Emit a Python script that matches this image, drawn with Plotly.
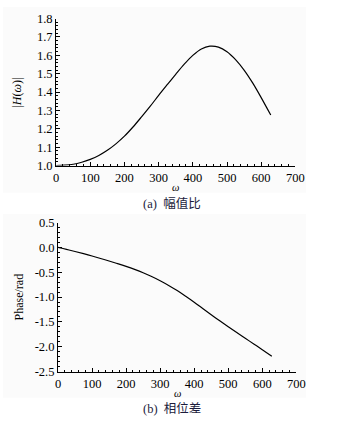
import plotly.graph_objects as go

# ---- data ----
omega_a = [0, 25, 50, 75, 100, 125, 150, 175, 200, 225, 250, 275, 300, 325, 350,
           375, 400, 425, 450, 475, 500, 525, 550, 575, 600, 628]
mag_ratio = [1.000, 1.002, 1.007, 1.018, 1.034, 1.055, 1.083, 1.118, 1.160, 1.210,
             1.265, 1.322, 1.382, 1.440, 1.497, 1.552, 1.600, 1.635, 1.650, 1.645,
             1.620, 1.577, 1.520, 1.450, 1.370, 1.275]

omega_b = [0, 25, 50, 75, 100, 125, 150, 175, 200, 225, 250, 275, 300, 325, 350,
           375, 400, 425, 450, 475, 500, 525, 550, 575, 600, 628]
phase = [0.000, -0.040, -0.082, -0.126, -0.173, -0.222, -0.273, -0.326, -0.382,
         -0.443, -0.510, -0.585, -0.670, -0.765, -0.870, -0.985, -1.105, -1.230,
         -1.355, -1.478, -1.598, -1.715, -1.830, -1.945, -2.060, -2.190]

x_ticks = [0, 100, 200, 300, 400, 500, 600, 700]
ya_ticks = [1.0, 1.1, 1.2, 1.3, 1.4, 1.5, 1.6, 1.7, 1.8]
yb_ticks = [0.5, 0.0, -0.5, -1.0, -1.5, -2.0, -2.5]

W, H = 342, 423
SERIF = "Times New Roman, Liberation Serif, serif"

fig = go.Figure()
fig.add_trace(go.Scatter(x=omega_a, y=mag_ratio, mode="lines", line=dict(color="black", width=1.2),
                         line_shape="spline", xaxis="x", yaxis="y", showlegend=False))
fig.add_trace(go.Scatter(x=omega_b, y=phase, mode="lines", line=dict(color="black", width=1.2),
                         line_shape="spline", xaxis="x2", yaxis="y2", showlegend=False))

def xax(domain, anchor):
    return dict(domain=domain, anchor=anchor, range=[0, 700], showline=True, linecolor="black",
                linewidth=1, ticks="inside", ticklen=4, tickcolor="black", tickwidth=1,
                tickvals=x_ticks, ticktext=[str(v) for v in x_ticks],
                minor=dict(ticks="inside", ticklen=2, dtick=20, tickcolor="black", tickwidth=1),
                showgrid=False, zeroline=False, mirror=False,
                tickfont=dict(family=SERIF, size=12.5, color="black"))

def yax(domain, anchor, rng, ticks, minor_dt):
    return dict(domain=domain, anchor=anchor, range=rng, showline=True, linecolor="black",
                linewidth=1, ticks="inside", ticklen=4, tickcolor="black", tickwidth=1,
                tickvals=ticks, ticktext=[("%.1f" % v) for v in ticks],
                minor=dict(ticks="inside", ticklen=2, dtick=minor_dt, tickcolor="black", tickwidth=1),
                showgrid=False, zeroline=False, mirror=False,
                tickfont=dict(family=SERIF, size=12.5, color="black"))

def ann(text, x, y, size=12, family=SERIF, color="black", angle=0):
    return dict(text=text, x=x / W, y=1 - y / H, xref="paper", yref="paper",
                xanchor="center", yanchor="middle", textangle=angle, showarrow=False,
                font=dict(family=family, size=size, color=color))

fig.update_layout(
    width=W, height=H,
    margin=dict(l=0, r=0, t=0, b=0),
    font=dict(family=SERIF, size=12, color="black"),
    paper_bgcolor="white", plot_bgcolor="rgba(0,0,0,0)",
    xaxis=xax([55 / W, 303 / W], "y"),
    yaxis=yax([1 - 164 / H, 1 - 12 / H], "x", [1.0, 1.8], ya_ticks, 0.02),
    xaxis2=xax([57 / W, 304 / W], "y2"),
    yaxis2=yax([1 - 377 / H, 1 - 223 / H], "x2", [-2.5, 0.5], yb_ticks, 0.1),
    shapes=[
        dict(type="rect", xref="paper", yref="paper", x0=0, x1=314 / W, y0=1 - 192 / H, y1=1,
             fillcolor="#fbfbfb", line=dict(width=0), layer="below"),
        dict(type="rect", xref="paper", yref="paper", x0=0, x1=314 / W, y0=1 - 404 / H, y1=1 - 214 / H,
             fillcolor="#fbfbfb", line=dict(width=0), layer="below"),
    ],
    annotations=[
        ann("|<i>H</i>(<i>ω</i>)|", 15, 88, angle=-90),
        ann("<i>ω</i>", 179, 187, size=10.5),
        ann("(a)  " + "<span style='font-family:Noto Sans CJK SC'>幅值比</span>", 175, 202,
            size=12.5, color="#1c1c3c"),
        ann("Phase/rad", 17, 300, angle=-90),
        ann("<i>ω</i>", 181, 400, size=10.5),
        ann("(b)  " + "<span style='font-family:Noto Sans CJK SC'>相位差</span>", 175, 414,
            size=12.5, color="#1c1c3c"),
    ],
)

fig.write_html("out.html", config={"displayModeBar": False},
               post_script="document.body.style.margin='0px';")
